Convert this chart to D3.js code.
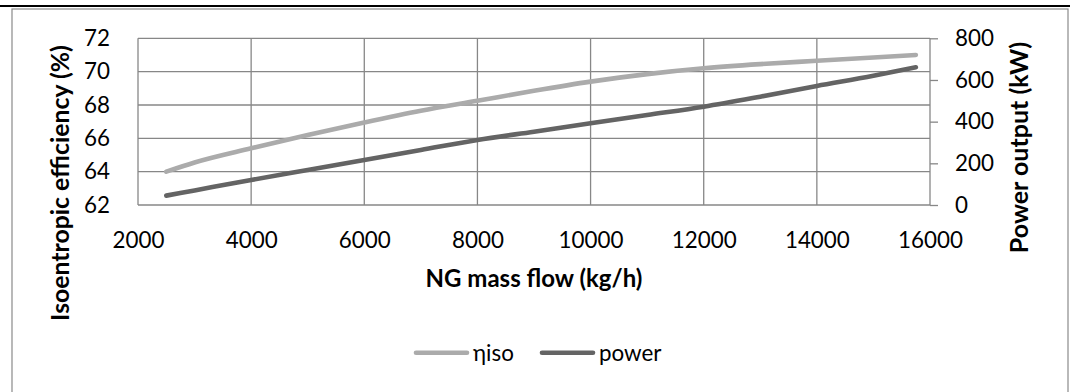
<!DOCTYPE html>
<html>
<head>
<meta charset="utf-8">
<script src="https://cdn.jsdelivr.net/npm/d3@7"></script>
<style>
  html, body { margin: 0; padding: 0; background: #fff; }
  svg { display: block; }
  text { font-family: Lato, "Open Sans", sans-serif; fill: #000; }
</style>
</head>
<body>
<svg id="chart" width="1074" height="392"></svg>
<script>
// NG mass flow (kg/h) sample points
const flow = [2500, 3000, 4000, 5000, 6000, 7000, 8000, 9000, 10000, 11000, 12000, 13000, 14000, 15000, 15750];
// isentropic efficiency (%)
const etaIso = [64.0, 64.55, 65.4, 66.2, 66.95, 67.65, 68.25, 68.85, 69.4, 69.85, 70.2, 70.45, 70.65, 70.85, 71.0];
// power output (kW)
const power = [45, 70, 120, 168, 216, 264, 312, 352, 392, 432, 472, 520, 571, 620, 661];

const xTicks = [2000, 4000, 6000, 8000, 10000, 12000, 14000, 16000];
const leftTicks = [62, 64, 66, 68, 70, 72];
const rightTicks = [0, 200, 400, 600, 800];
const seriesNames = ["ηiso", "power"];

const W = 1074, H = 392;
const plot = { left: 138, right: 930, top: 38.3, bottom: 205 };
const gridColor = "#878787";
const colors = { eta: "#ababab", power: "#646464" };
const fontSize = 22.4;

const svg = d3.select("#chart");

// outer rule and chart frame
svg.append("line")
  .attr("x1", 0).attr("x2", 1070).attr("y1", 6).attr("y2", 6)
  .attr("stroke", "#000").attr("stroke-width", 2);
svg.append("rect")
  .attr("x", 12).attr("y", 9).attr("width", 1056).attr("height", 420)
  .attr("fill", "#fff").attr("stroke", "#8a8a8a").attr("stroke-width", 1.2);

const x = d3.scaleLinear().domain([2000, 16000]).range([plot.left, plot.right]);
const yL = d3.scaleLinear().domain([62, 72]).range([plot.bottom, plot.top]);
const yR = d3.scaleLinear().domain([0, 800]).range([plot.bottom, plot.top]);

// gridlines
const grid = svg.append("g").attr("stroke", gridColor).attr("stroke-width", 1.3);
grid.selectAll("line.v").data(xTicks).join("line").attr("class", "v")
  .attr("x1", d => x(d)).attr("x2", d => x(d))
  .attr("y1", plot.top).attr("y2", plot.bottom);
grid.selectAll("line.h").data(leftTicks).join("line").attr("class", "h")
  .attr("x1", plot.left).attr("x2", plot.right)
  .attr("y1", d => yL(d)).attr("y2", d => yL(d));

// axes
function styleAxis(g) {
  g.attr("font-family", null).attr("font-size", null);
  g.selectAll("text").style("font-size", fontSize + "px");
  g.selectAll("line").attr("stroke", gridColor).attr("stroke-width", 1.3);
  g.select(".domain").remove();
}

svg.append("g")
  .attr("transform", `translate(${plot.left},0)`)
  .call(d3.axisLeft(yL).tickValues(leftTicks).tickSize(0).tickPadding(28))
  .call(styleAxis);

svg.append("g")
  .attr("transform", `translate(0,${plot.bottom})`)
  .call(d3.axisBottom(x).tickValues(xTicks).tickFormat(d3.format("d")).tickSize(0).tickPadding(27))
  .call(styleAxis);

svg.append("g")
  .attr("transform", `translate(${plot.right},0)`)
  .call(d3.axisRight(yR).tickValues(rightTicks).tickSize(8).tickPadding(17))
  .call(styleAxis);

// series lines
const etaLine = d3.line().curve(d3.curveMonotoneX)
  .x((d, i) => x(flow[i])).y(d => yL(d));
const powerLine = d3.line().curve(d3.curveMonotoneX)
  .x((d, i) => x(flow[i])).y(d => yR(d));

svg.append("path").datum(etaIso).attr("d", etaLine)
  .attr("fill", "none").attr("stroke", colors.eta)
  .attr("stroke-width", 4.6).attr("stroke-linecap", "round").attr("stroke-linejoin", "round");
svg.append("path").datum(power).attr("d", powerLine)
  .attr("fill", "none").attr("stroke", colors.power)
  .attr("stroke-width", 4.6).attr("stroke-linecap", "round").attr("stroke-linejoin", "round");

// axis titles
svg.append("text")
  .attr("transform", "translate(60,183) rotate(-90)")
  .attr("text-anchor", "middle").attr("dy", "0.36em")
  .style("font-size", "24.8px").style("font-weight", "bold")
  .text("Isoentropic efficiency (%)");

svg.append("text")
  .attr("transform", "translate(1019,147.5) rotate(-90)")
  .attr("text-anchor", "middle").attr("dy", "0.36em")
  .style("font-size", "25px").style("font-weight", "bold")
  .text("Power output (kW)");

svg.append("text")
  .attr("x", 534).attr("y", 287)
  .attr("text-anchor", "middle")
  .style("font-size", "24px").style("font-weight", "bold")
  .text("NG mass flow (kg/h)");

// legend
const legendItems = [
  { name: seriesNames[0], color: colors.eta, x0: 416, x1: 467, tx: 473 },
  { name: seriesNames[1], color: colors.power, x0: 542, x1: 593, tx: 599 }
];
const legend = svg.append("g");
legendItems.forEach(item => {
  legend.append("line")
    .attr("x1", item.x0).attr("x2", item.x1).attr("y1", 352.7).attr("y2", 352.7)
    .attr("stroke", item.color).attr("stroke-width", 4.6).attr("stroke-linecap", "round");
  legend.append("text")
    .attr("x", item.tx).attr("y", 361)
    .style("font-size", fontSize + "px")
    .text(item.name);
});
</script>
</body>
</html>
